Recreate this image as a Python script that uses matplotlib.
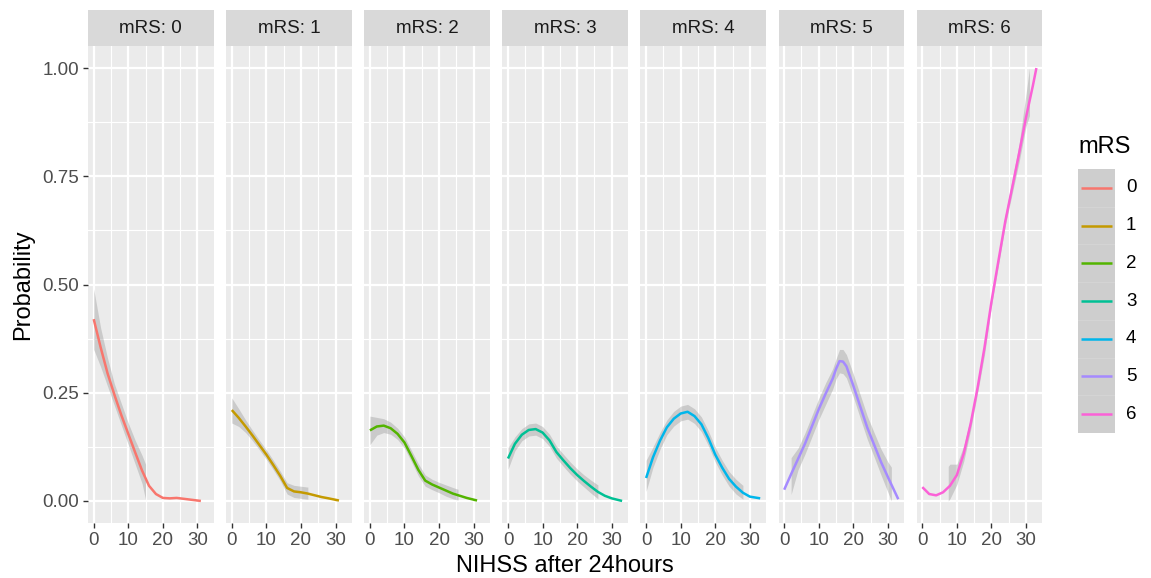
import matplotlib
matplotlib.use("Agg")
import matplotlib.pyplot as plt
import numpy as np

plt.rcParams['font.family'] = ['Liberation Sans', 'DejaVu Sans']

# ---------------- data ----------------
mrs_levels = ["0", "1", "2", "3", "4", "5", "6"]
facet_titles = ["mRS: 0", "mRS: 1", "mRS: 2", "mRS: 3", "mRS: 4", "mRS: 5", "mRS: 6"]
colors = ["#F8766D", "#C49A00", "#53B400", "#00C094", "#00B6EB", "#A58AFF", "#FB61D7"]

x_ticks = [0, 10, 20, 30]
y_ticks = [0.00, 0.25, 0.50, 0.75, 1.00]
y_tick_labels = ["0.00", "0.25", "0.50", "0.75", "1.00"]

# smoothed curve (x, y) per mRS level
x0 = [0, 2, 4, 6, 8, 10, 12, 14, 16, 18, 20, 22, 24, 26, 28, 31]
y0 = [0.420, 0.355, 0.295, 0.245, 0.198, 0.155, 0.112, 0.070, 0.035, 0.016, 0.007, 0.006, 0.007, 0.005, 0.003, 0.000]
x1 = [0, 2, 4, 6, 8, 10, 12, 14, 16, 18, 20, 22, 24, 26, 28, 31]
y1 = [0.210, 0.192, 0.172, 0.151, 0.129, 0.107, 0.083, 0.058, 0.030, 0.022, 0.020, 0.017, 0.013, 0.009, 0.006, 0.001]
x2 = [0, 2, 4, 6, 8, 10, 12, 14, 16, 18, 20, 22, 24, 26, 28, 31]
y2 = [0.163, 0.172, 0.174, 0.168, 0.155, 0.135, 0.104, 0.072, 0.047, 0.038, 0.031, 0.024, 0.017, 0.012, 0.007, 0.001]
x3 = [0, 2, 4, 6, 8, 10, 12, 14, 16, 18, 20, 22, 24, 26, 28, 30, 33]
y3 = [0.098, 0.132, 0.153, 0.164, 0.166, 0.158, 0.140, 0.113, 0.094, 0.076, 0.060, 0.046, 0.033, 0.021, 0.012, 0.006, 0.000]
x4 = [0, 2, 4, 6, 8, 10, 12, 14, 16, 18, 20, 22, 24, 26, 28, 30, 33]
y4 = [0.053, 0.101, 0.139, 0.170, 0.190, 0.202, 0.206, 0.196, 0.177, 0.145, 0.107, 0.077, 0.051, 0.033, 0.019, 0.010, 0.006]
x5 = [0, 2, 4, 6, 8, 10, 12, 14, 15, 16, 17, 18, 20, 22, 24, 26, 28, 30, 33]
y5 = [0.026, 0.062, 0.097, 0.132, 0.172, 0.212, 0.248, 0.282, 0.305, 0.323, 0.322, 0.311, 0.266, 0.218, 0.170, 0.130, 0.090, 0.055, 0.004]
x6 = [0, 2, 4, 6, 8, 10, 12, 14, 16, 18, 20, 22, 24, 26, 28, 30, 32, 33]
y6 = [0.032, 0.016, 0.013, 0.020, 0.035, 0.060, 0.110, 0.179, 0.262, 0.355, 0.460, 0.554, 0.646, 0.724, 0.803, 0.886, 0.960, 1.000]

# confidence band (x, lower, upper) per mRS level
bx0 = [0, 2, 4, 6, 8, 10, 12, 14, 15]
blo0 = [0.350, 0.310, 0.265, 0.220, 0.175, 0.130, 0.085, 0.040, 0.003]
bhi0 = [0.490, 0.400, 0.330, 0.270, 0.225, 0.180, 0.140, 0.105, 0.085]
bx1 = [0, 2, 4, 6, 8, 10, 12, 14, 16, 18, 20, 22]
blo1 = [0.180, 0.172, 0.158, 0.139, 0.118, 0.096, 0.072, 0.047, 0.016, 0.008, 0.006, 0.004]
bhi1 = [0.238, 0.213, 0.187, 0.163, 0.140, 0.118, 0.094, 0.069, 0.042, 0.036, 0.034, 0.032]
bx2 = [0, 2, 4, 6, 8, 10, 12, 14, 16, 18, 20, 22, 24, 25.5]
blo2 = [0.130, 0.152, 0.158, 0.154, 0.142, 0.122, 0.091, 0.058, 0.034, 0.026, 0.019, 0.011, 0.005, 0.002]
bhi2 = [0.196, 0.193, 0.190, 0.182, 0.168, 0.148, 0.117, 0.086, 0.060, 0.050, 0.043, 0.037, 0.031, 0.027]
bx3 = [0, 2, 4, 6, 8, 10, 12, 14, 16, 18, 20, 22, 24, 26]
blo3 = [0.073, 0.116, 0.139, 0.150, 0.152, 0.144, 0.126, 0.099, 0.080, 0.062, 0.046, 0.032, 0.018, 0.005]
bhi3 = [0.123, 0.148, 0.167, 0.178, 0.180, 0.172, 0.154, 0.127, 0.108, 0.090, 0.074, 0.060, 0.048, 0.037]
bx4 = [0, 2, 4, 6, 8, 10, 12, 14, 16, 18, 20, 22, 24, 26, 28]
blo4 = [0.022, 0.078, 0.119, 0.153, 0.173, 0.185, 0.189, 0.179, 0.160, 0.128, 0.090, 0.060, 0.034, 0.016, 0.004]
bhi4 = [0.094, 0.125, 0.158, 0.187, 0.207, 0.219, 0.223, 0.213, 0.194, 0.162, 0.124, 0.094, 0.068, 0.050, 0.036]
bx5 = [2, 4, 6, 8, 10, 12, 14, 15, 16, 17, 18, 20, 22, 24, 26, 28, 30, 31]
blo5 = [0.015, 0.072, 0.108, 0.148, 0.188, 0.223, 0.258, 0.282, 0.296, 0.294, 0.284, 0.240, 0.191, 0.143, 0.102, 0.060, 0.020, 0.000]
bhi5 = [0.100, 0.122, 0.157, 0.197, 0.237, 0.273, 0.305, 0.328, 0.350, 0.350, 0.338, 0.293, 0.245, 0.197, 0.158, 0.120, 0.090, 0.078]
bx6 = [7.5, 8, 10, 12, 14, 16, 18, 20, 22, 24, 26, 28, 30, 31]
blo6 = [0.000, 0.005, 0.038, 0.092, 0.165, 0.250, 0.338, 0.450, 0.543, 0.636, 0.710, 0.783, 0.865, 0.890]
bhi6 = [0.080, 0.085, 0.085, 0.128, 0.193, 0.274, 0.362, 0.470, 0.565, 0.662, 0.742, 0.825, 0.940, 1.000]

curves_x = [x0, x1, x2, x3, x4, x5, x6]
curves_y = [y0, y1, y2, y3, y4, y5, y6]
bands_x = [bx0, bx1, bx2, bx3, bx4, bx5, bx6]
bands_lo = [blo0, blo1, blo2, blo3, blo4, blo5, blo6]
bands_hi = [bhi0, bhi1, bhi2, bhi3, bhi4, bhi5, bhi6]

# ---------------- figure ----------------
W, H = 1151, 578
fig = plt.figure(figsize=(W / 100, H / 100), dpi=100)
fig.patch.set_facecolor("white")

panel_left0 = 88.0
panel_w = 125.5
panel_gap = 12.6
panel_top = 46.4
panel_bot = 522.6
strip_top = 10.0

TICK_FS = 13.5
TITLE_FS = 17
tick_col = "#4D4D4D"

def fx(px):
    return px / W

def fy(py):
    return 1 - py / H

for i in range(7):
    left = panel_left0 + i * (panel_w + panel_gap)
    ax = fig.add_axes([fx(left), fy(panel_bot), panel_w / W, (panel_bot - panel_top) / H])
    ax.set_facecolor("#EBEBEB")
    ax.set_xlim(-1.65, 34.65)
    ax.set_ylim(-0.05, 1.05)
    # grid
    for xv in [5, 15, 25]:
        ax.axvline(xv, color="white", lw=0.8, zorder=0.5)
    for yv in [0.125, 0.375, 0.625, 0.875]:
        ax.axhline(yv, color="white", lw=0.8, zorder=0.5)
    for xv in x_ticks:
        ax.axvline(xv, color="white", lw=1.6, zorder=0.6)
    for yv in y_ticks:
        ax.axhline(yv, color="white", lw=1.6, zorder=0.6)
    for s in ax.spines.values():
        s.set_visible(False)
    ax.fill_between(bands_x[i], bands_lo[i], bands_hi[i], color="#999999", alpha=0.4, lw=0, zorder=1)
    ax.plot(curves_x[i], curves_y[i], color=colors[i], lw=1.8, zorder=2, solid_capstyle="butt")
    ax.set_xticks(x_ticks)
    ax.set_xticklabels([str(v) for v in x_ticks])
    ax.tick_params(axis="x", length=3.6, width=1.0, color="#333333", labelsize=TICK_FS,
                   labelcolor=tick_col, pad=3)
    if i == 0:
        ax.set_yticks(y_ticks)
        ax.set_yticklabels(y_tick_labels)
        ax.tick_params(axis="y", length=3.6, width=1.0, color="#333333", labelsize=TICK_FS,
                       labelcolor=tick_col, pad=3)
        ax.set_ylabel("Probability", fontsize=TITLE_FS, color="black", labelpad=6)
    else:
        ax.set_yticks(y_ticks)
        ax.tick_params(axis="y", length=0, labelleft=False)
    # strip
    sax = fig.add_axes([fx(left), fy(panel_top), panel_w / W, (panel_top - strip_top) / H])
    sax.set_facecolor("#D9D9D9")
    sax.set_xticks([])
    sax.set_yticks([])
    for s in sax.spines.values():
        s.set_visible(False)
    sax.text(0.5, 0.5, facet_titles[i], ha="center", va="center", fontsize=TICK_FS,
             color="#1A1A1A", transform=sax.transAxes)

# x-axis title
fig.text(fx(565), fy(566), "NIHSS after 24hours", ha="center", va="center",
         fontsize=TITLE_FS, color="black")

# ---------------- legend ----------------
leg_left, leg_right = 1078, 1115
leg_top, leg_bot = 169, 433
lax = fig.add_axes([fx(leg_left), fy(leg_bot), (leg_right - leg_left) / W, (leg_bot - leg_top) / H])
lax.set_facecolor("#CECECE")
lax.set_xlim(0, 1)
lax.set_ylim(0, 7)
lax.set_xticks([])
lax.set_yticks([])
for s in lax.spines.values():
    s.set_visible(False)
for k in range(1, 7):
    lax.axhline(k, color="#D6D6D6", lw=0.6)
for k, lab in enumerate(mrs_levels):
    yc = 6.5 - k
    lax.plot([0.08, 0.92], [yc, yc], color=colors[k], lw=1.8, solid_capstyle="butt")
    fig.text(fx(1126), fy(leg_top + (k + 0.5) * (leg_bot - leg_top) / 7), lab,
             ha="left", va="center", fontsize=TICK_FS, color="black")
fig.text(fx(1078), fy(147), "mRS", ha="left", va="center", fontsize=TITLE_FS, color="black")

fig.savefig("out.png", dpi=100, facecolor="white")
